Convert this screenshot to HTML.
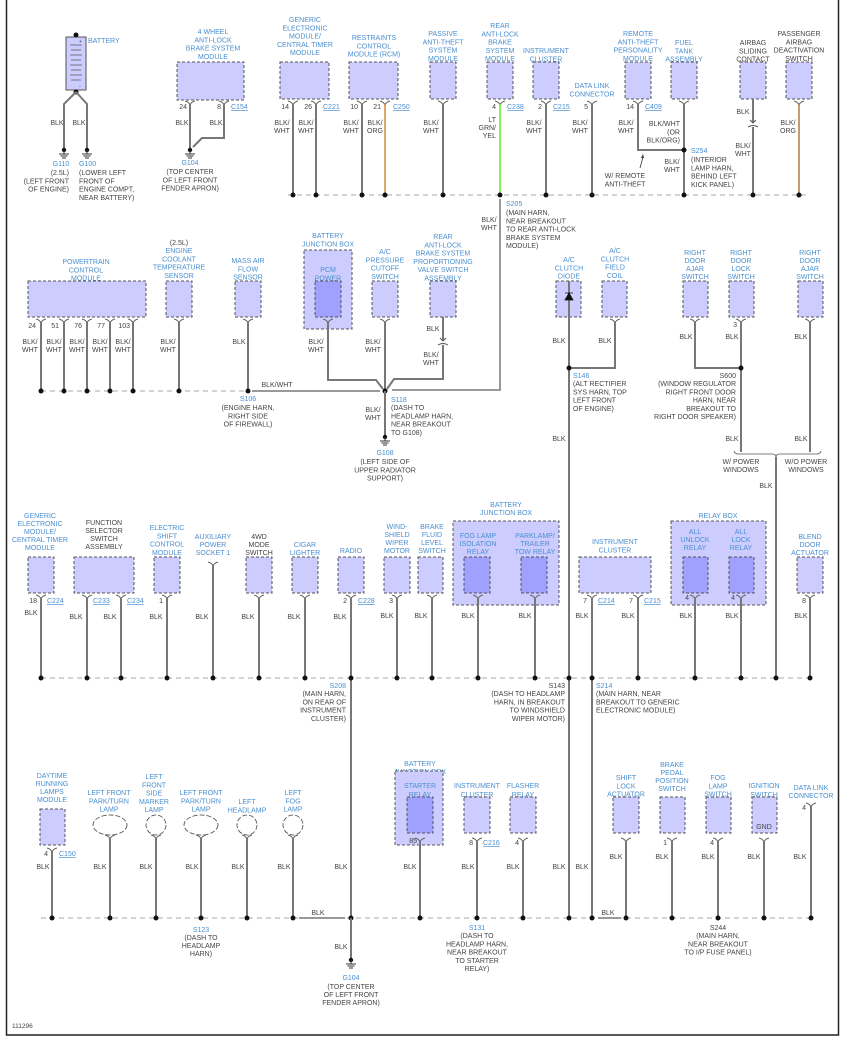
<!DOCTYPE html>
<html><head><meta charset="utf-8"><style>
html,body{margin:0;padding:0;background:#fff;}
svg{display:block;font-family:"Liberation Sans",Arial,sans-serif;font-size:7px;}
.b{fill:#4a8fd0}.k{fill:#444}.m{text-anchor:middle}.e{text-anchor:end}
.u{text-decoration:underline}
.bx{fill:#ccccff;stroke:#555;stroke-width:1;stroke-dasharray:3 2}
.rl{fill:#a0a0ff;stroke:#555;stroke-width:1;stroke-dasharray:3 2}
.w{stroke:#777;stroke-width:2;fill:none}
.bus{stroke:#aaa;stroke-width:1;stroke-dasharray:5 4;fill:none}
.sw{stroke:#999;stroke-width:2;fill:none}
</style></head><body>
<svg width="848" height="1038" viewBox="0 0 848 1038" xmlns="http://www.w3.org/2000/svg">
<defs>
<g id="c"><path d="M-5,0 Q-1,1 0,4 Q1,1 5,0" stroke="#666" stroke-width="1" fill="none"/></g>
<g id="d"><circle r="2.5" fill="#111"/></g>
<g id="g"><circle r="2.2" fill="#111"/><path d="M0,0 V4 M-5,4 H5 M-3.5,6 H3.5 M-2,8 H2" stroke="#333" stroke-width="1"/></g>
</defs>
<!-- frame -->
<path d="M6.5,0 V1035 H838.5 V0" stroke="#222" stroke-width="1.5" fill="none"/>

<!-- ===== SECTION 1 ===== -->
<!-- battery -->
<rect x="66" y="37" width="20" height="53" fill="#ccccff" stroke="#555"/>
<path d="M70,45 H82 M71,50 H81 M70,55 H82 M71,60 H81 M70,65 H82 M71,70 H81 M70,75 H82 M71,80 H81" stroke="#555" stroke-width="0.8"/>
<text x="79" y="43" class="k" font-size="5">+</text><text x="79" y="88" class="k" font-size="5">-</text>
<use href="#d" x="76" y="35"/><use href="#d" x="76" y="92"/>
<path class="w" d="M76,92 L64,104 V150 M76,92 L87,104 V150"/>
<text x="88" y="43" class="b">BATTERY</text>
<text x="57" y="125" class="k m">BLK</text><text x="79" y="125" class="k m">BLK</text>
<use href="#g" x="64" y="150"/><use href="#g" x="87" y="150"/>
<text class="b m" x="61" y="166">G110</text>
<text class="k e" x="69" y="175"><tspan x="69">(2.5L)</tspan><tspan x="69" dy="8.3">(LEFT FRONT</tspan><tspan x="69" dy="8.3">OF ENGINE)</tspan></text>
<text class="b" x="79" y="166">G100</text>
<text class="k" x="79" y="175"><tspan x="79">(LOWER LEFT</tspan><tspan x="79" dy="8.3">FRONT OF</tspan><tspan x="79" dy="8.3">ENGINE COMPT,</tspan><tspan x="79" dy="8.3">NEAR BATTERY)</tspan></text>

<!-- 4WABS -->
<text class="b m" x="213" y="34"><tspan x="213">4 WHEEL</tspan><tspan x="213" dy="8.3">ANTI-LOCK</tspan><tspan x="213" dy="8.3">BRAKE SYSTEM</tspan><tspan x="213" dy="8.3">MODULE</tspan></text>
<rect class="bx" x="177" y="62" width="67" height="38"/>
<use href="#c" x="190" y="101"/><use href="#c" x="224" y="101"/>
<text class="k e" x="187" y="109">24</text><text class="k e" x="221" y="109">8</text>
<text class="b u" x="231" y="109">C154</text>
<path class="w" d="M190,104 V148 M224,104 V138 H202 L193,147"/>
<text class="k m" x="182" y="125">BLK</text><text class="k m" x="216" y="125">BLK</text>
<use href="#g" x="190" y="150"/>
<text class="b m" x="190" y="165">G104</text>
<text class="k m" x="190" y="174"><tspan x="190">(TOP CENTER</tspan><tspan x="190" dy="8.3">OF LEFT FRONT</tspan><tspan x="190" dy="8.3">FENDER APRON)</tspan></text>

<!-- GEM -->
<text class="b m" x="305" y="22"><tspan x="305">GENERIC</tspan><tspan x="305" dy="8.3">ELECTRONIC</tspan><tspan x="305" dy="8.3">MODULE/</tspan><tspan x="305" dy="8.3">CENTRAL TIMER</tspan><tspan x="305" dy="8.3">MODULE</tspan></text>
<rect class="bx" x="280" y="62" width="49" height="37"/>
<use href="#c" x="293" y="101"/><use href="#c" x="316" y="101"/>
<text class="k e" x="289" y="109">14</text><text class="k e" x="312" y="109">26</text>
<text class="b u" x="323" y="109">C221</text>
<path class="w" d="M293,104 V195 M316,104 V195"/>
<text class="k m" x="282" y="125"><tspan x="282">BLK/</tspan><tspan x="282" dy="8">WHT</tspan></text>
<text class="k m" x="306" y="125"><tspan x="306">BLK/</tspan><tspan x="306" dy="8">WHT</tspan></text>
<!-- RCM -->
<text class="b m" x="374" y="40"><tspan x="374">RESTRAINTS</tspan><tspan x="374" dy="8.3">CONTROL</tspan><tspan x="374" dy="8.3">MODULE (RCM)</tspan></text>
<rect class="bx" x="349" y="62" width="49" height="37"/>
<use href="#c" x="362" y="101"/><use href="#c" x="385" y="101"/>
<text class="k e" x="358" y="109">10</text><text class="k e" x="381" y="109">21</text>
<text class="b u" x="393" y="109">C250</text>
<path class="w" d="M362,104 V195"/><path d="M385,104 V195" stroke="#d08a3a" stroke-width="1.5"/>
<text class="k m" x="351" y="125"><tspan x="351">BLK/</tspan><tspan x="351" dy="8">WHT</tspan></text>
<text class="k m" x="375" y="125"><tspan x="375">BLK/</tspan><tspan x="375" dy="8">ORG</tspan></text>
<!-- passive anti-theft -->
<text class="b m" x="443" y="36"><tspan x="443">PASSIVE</tspan><tspan x="443" dy="8.3">ANTI-THEFT</tspan><tspan x="443" dy="8.3">SYSTEM</tspan><tspan x="443" dy="8.3">MODULE</tspan></text>
<rect class="bx" x="430" y="62" width="26" height="37"/>
<use href="#c" x="443" y="101"/><path class="w" d="M443,104 V195"/>
<text class="k m" x="431" y="125"><tspan x="431">BLK/</tspan><tspan x="431" dy="8">WHT</tspan></text>
<!-- rear abs -->
<text class="b m" x="500" y="28"><tspan x="500">REAR</tspan><tspan x="500" dy="8.3">ANTI-LOCK</tspan><tspan x="500" dy="8.3">BRAKE</tspan><tspan x="500" dy="8.3">SYSTEM</tspan><tspan x="500" dy="8.3">MODULE</tspan></text>
<rect class="bx" x="487" y="62" width="26" height="37"/>
<use href="#c" x="500" y="101"/><text class="k e" x="496" y="109">4</text><text class="b u" x="507" y="109">C238</text>
<path d="M500,104 V195" stroke="#66ee22" stroke-width="1.5"/>
<text class="k e" x="496" y="122"><tspan x="496">LT</tspan><tspan x="496" dy="8">GRN/</tspan><tspan x="496" dy="8">YEL</tspan></text>
<!-- instrument cluster -->
<text class="b m" x="546" y="53"><tspan x="546">INSTRUMENT</tspan><tspan x="546" dy="8.3">CLUSTER</tspan></text>
<rect class="bx" x="533" y="62" width="26" height="37"/>
<use href="#c" x="546" y="101"/><text class="k e" x="542" y="109">2</text><text class="b u" x="553" y="109">C215</text>
<path class="w" d="M546,104 V195"/>
<text class="k m" x="534" y="125"><tspan x="534">BLK/</tspan><tspan x="534" dy="8">WHT</tspan></text>
<!-- DLC -->
<text class="b m" x="592" y="88"><tspan x="592">DATA LINK</tspan><tspan x="592" dy="8.3">CONNECTOR</tspan></text>
<use href="#c" x="592" y="101"/><text class="k e" x="588" y="109">5</text>
<path class="w" d="M592,104 V195"/>
<text class="k m" x="580" y="125"><tspan x="580">BLK/</tspan><tspan x="580" dy="8">WHT</tspan></text>
<!-- remote anti-theft -->
<text class="b m" x="638" y="36"><tspan x="638">REMOTE</tspan><tspan x="638" dy="8.3">ANTI-THEFT</tspan><tspan x="638" dy="8.3">PERSONALITY</tspan><tspan x="638" dy="8.3">MODULE</tspan></text>
<rect class="bx" x="625" y="62" width="26" height="37"/>
<use href="#c" x="638" y="101"/><text class="k e" x="634" y="109">14</text><text class="b u" x="645" y="109">C409</text>
<path class="w" d="M638,104 V150 H684" stroke-width="1.5"/>
<text class="k m" x="626" y="125"><tspan x="626">BLK/</tspan><tspan x="626" dy="8">WHT</tspan></text>
<path d="M640,168 L643,157" stroke="#333" stroke-width="0.8"/><path d="M643,154 l-2,4 l3,0 z" fill="#333"/>
<text class="k m" x="625" y="178"><tspan x="625">W/ REMOTE</tspan><tspan x="625" dy="8.3">ANTI-THEFT</tspan></text>
<!-- fuel tank -->
<text class="b m" x="684" y="45"><tspan x="684">FUEL</tspan><tspan x="684" dy="8.3">TANK</tspan><tspan x="684" dy="8.3">ASSEMBLY</tspan></text>
<rect class="bx" x="671" y="62" width="26" height="37"/>
<use href="#c" x="684" y="101"/><path class="w" d="M684,104 V195"/>
<text class="k e" x="680" y="126"><tspan x="680">BLK/WHT</tspan><tspan x="680" dy="8.3">(OR</tspan><tspan x="680" dy="8.3">BLK/ORG)</tspan></text>
<use href="#d" x="684" y="150"/>
<text class="b" x="691" y="153">S254</text>
<text class="k" x="691" y="162"><tspan x="691">(INTERIOR</tspan><tspan x="691" dy="8.3">LAMP HARN,</tspan><tspan x="691" dy="8.3">BEHIND LEFT</tspan><tspan x="691" dy="8.3">KICK PANEL)</tspan></text>
<text class="k m" x="672" y="164"><tspan x="672">BLK/</tspan><tspan x="672" dy="8">WHT</tspan></text>
<!-- airbag sliding -->
<text class="k m" x="753" y="45"><tspan x="753">AIRBAG</tspan><tspan x="753" dy="8.3">SLIDING</tspan><tspan x="753" dy="8.3">CONTACT</tspan></text>
<rect class="bx" x="740" y="62" width="26" height="37"/>
<path class="w" d="M753,99 V122 M753,127 V195"/>
<path d="M750,120 l3,3 l3,-3 M748,127 Q753,124 758,127" stroke="#555" fill="none" stroke-width="1"/>
<text class="k m" x="743" y="114">BLK</text>
<text class="k m" x="743" y="148"><tspan x="743">BLK/</tspan><tspan x="743" dy="8">WHT</tspan></text>
<!-- passenger airbag -->
<text class="k m" x="799" y="36"><tspan x="799">PASSENGER</tspan><tspan x="799" dy="8.3">AIRBAG</tspan><tspan x="799" dy="8.3">DEACTIVATION</tspan><tspan x="799" dy="8.3">SWITCH</tspan></text>
<rect class="bx" x="786" y="62" width="26" height="37"/>
<use href="#c" x="799" y="101"/><path d="M799,104 V195" stroke="#b07a45" stroke-width="1.5"/>
<text class="k m" x="788" y="125"><tspan x="788">BLK/</tspan><tspan x="788" dy="8">ORG</tspan></text>
<!-- bus 1 -->
<path class="bus" d="M288,195 H806"/>
<use href="#d" x="293" y="195"/><use href="#d" x="316" y="195"/><use href="#d" x="362" y="195"/><use href="#d" x="385" y="195"/><use href="#d" x="443" y="195"/><use href="#d" x="500" y="195"/><use href="#d" x="546" y="195"/><use href="#d" x="592" y="195"/><use href="#d" x="684" y="195"/><use href="#d" x="753" y="195"/><use href="#d" x="799" y="195"/>
<path class="sw" d="M500,199 V390 H392"/>
<text class="k m" x="489" y="222"><tspan x="489">BLK/</tspan><tspan x="489" dy="8">WHT</tspan></text>
<text class="b" x="506" y="206">S205</text>
<text class="k" x="506" y="215"><tspan x="506">(MAIN HARN,</tspan><tspan x="506" dy="8.3">NEAR BREAKOUT</tspan><tspan x="506" dy="8.3">TO REAR ANTI-LOCK</tspan><tspan x="506" dy="8.3">BRAKE SYSTEM</tspan><tspan x="506" dy="8.3">MODULE)</tspan></text>

<!-- ===== SECTION 2 ===== -->
<text class="b m" x="86" y="264"><tspan x="86">POWERTRAIN</tspan><tspan x="86" dy="8.3">CONTROL</tspan><tspan x="86" dy="8.3">MODULE</tspan></text>
<rect class="bx" x="28" y="281" width="118" height="36"/>
<use href="#c" x="41" y="319"/><use href="#c" x="64" y="319"/><use href="#c" x="87" y="319"/><use href="#c" x="110" y="319"/><use href="#c" x="133" y="319"/>
<text class="k e" x="36" y="328">24</text><text class="k e" x="59" y="328">51</text><text class="k e" x="82" y="328">76</text><text class="k e" x="105" y="328">77</text><text class="k e" x="130" y="328">103</text>
<path class="w" d="M41,322 V391 M64,322 V391 M87,322 V391 M110,322 V391 M133,322 V391"/>
<text class="k m" x="30" y="344"><tspan x="30">BLK/</tspan><tspan x="30" dy="8">WHT</tspan></text>
<text class="k m" x="54" y="344"><tspan x="54">BLK/</tspan><tspan x="54" dy="8">WHT</tspan></text>
<text class="k m" x="77" y="344"><tspan x="77">BLK/</tspan><tspan x="77" dy="8">WHT</tspan></text>
<text class="k m" x="100" y="344"><tspan x="100">BLK/</tspan><tspan x="100" dy="8">WHT</tspan></text>
<text class="k m" x="123" y="344"><tspan x="123">BLK/</tspan><tspan x="123" dy="8">WHT</tspan></text>
<text class="k m" x="179" y="245">(2.5L)</text>
<text class="b m" x="179" y="253"><tspan x="179">ENGINE</tspan><tspan x="179" dy="8.3">COOLANT</tspan><tspan x="179" dy="8.3">TEMPERATURE</tspan><tspan x="179" dy="8.3">SENSOR</tspan></text>
<rect class="bx" x="166" y="281" width="26" height="36"/>
<use href="#c" x="179" y="319"/><path class="w" d="M179,322 V391"/>
<text class="k m" x="168" y="344"><tspan x="168">BLK/</tspan><tspan x="168" dy="8">WHT</tspan></text>
<text class="b m" x="248" y="263"><tspan x="248">MASS AIR</tspan><tspan x="248" dy="8.3">FLOW</tspan><tspan x="248" dy="8.3">SENSOR</tspan></text>
<rect class="bx" x="235" y="281" width="26" height="36"/>
<use href="#c" x="248" y="319"/><path class="w" d="M248,322 V391"/>
<text class="k m" x="239" y="344">BLK</text>
<path class="bus" d="M41,391 H248"/>
<path class="sw" d="M252,391 H380"/>
<text class="k m" x="277" y="387">BLK/WHT</text>
<use href="#d" x="41" y="391"/><use href="#d" x="64" y="391"/><use href="#d" x="87" y="391"/><use href="#d" x="110" y="391"/><use href="#d" x="133" y="391"/><use href="#d" x="179" y="391"/><use href="#d" x="248" y="391"/>
<text class="b m" x="248" y="401">S106</text>
<text class="k m" x="248" y="410"><tspan x="248">(ENGINE HARN,</tspan><tspan x="248" dy="8.3">RIGHT SIDE</tspan><tspan x="248" dy="8.3">OF FIREWALL)</tspan></text>
<!-- BJB PCM relay -->
<rect class="bx" x="304" y="250" width="48" height="79"/>
<text class="b m" x="328" y="238"><tspan x="328">BATTERY</tspan><tspan x="328" dy="8.3">JUNCTION BOX</tspan></text>
<text class="b m" x="328" y="272"><tspan x="328">PCM</tspan><tspan x="328" dy="8.3">POWER</tspan><tspan x="328" dy="8.3">RELAY</tspan></text>
<rect class="rl" x="315" y="281" width="26" height="36"/>
<use href="#c" x="328" y="319"/>
<path class="w" d="M328,322 V380 H376 L383,389"/>
<text class="k m" x="316" y="344"><tspan x="316">BLK/</tspan><tspan x="316" dy="8">WHT</tspan></text>
<text class="b m" x="385" y="254"><tspan x="385">A/C</tspan><tspan x="385" dy="8.3">PRESSURE</tspan><tspan x="385" dy="8.3">CUTOFF</tspan><tspan x="385" dy="8.3">SWITCH</tspan></text>
<rect class="bx" x="372" y="281" width="26" height="36"/>
<use href="#c" x="385" y="319"/><path class="w" d="M385,322 V391"/>
<text class="k m" x="373" y="344"><tspan x="373">BLK/</tspan><tspan x="373" dy="8">WHT</tspan></text>
<text class="b m" x="443" y="239"><tspan x="443">REAR</tspan><tspan x="443" dy="8.3">ANTI-LOCK</tspan><tspan x="443" dy="8.3">BRAKE SYSTEM</tspan><tspan x="443" dy="8.3">PROPORTIONING</tspan><tspan x="443" dy="8.3">VALVE SWITCH</tspan><tspan x="443" dy="8.3">ASSEMBLY</tspan></text>
<rect class="bx" x="430" y="281" width="26" height="36"/>
<path class="w" d="M443,317 V340 M443,345 V379 H394 L387,389"/>
<path d="M440,338 l3,3 l3,-3 M438,345 Q443,342 448,345" stroke="#555" fill="none" stroke-width="1"/>
<text class="k m" x="433" y="331">BLK</text>
<text class="k m" x="431" y="357"><tspan x="431">BLK/</tspan><tspan x="431" dy="8">WHT</tspan></text>
<use href="#d" x="385" y="391"/>
<path class="w" d="M385,391 V436"/>
<use href="#g" x="385" y="437"/>
<text class="k m" x="373" y="412"><tspan x="373">BLK/</tspan><tspan x="373" dy="8">WHT</tspan></text>
<text class="b" x="391" y="402">S118</text>
<text class="k" x="391" y="410"><tspan x="391">(DASH TO</tspan><tspan x="391" dy="8.3">HEADLAMP HARN,</tspan><tspan x="391" dy="8.3">NEAR BREAKOUT</tspan><tspan x="391" dy="8.3">TO G108)</tspan></text>
<text class="b m" x="385" y="455">G108</text>
<text class="k m" x="385" y="464"><tspan x="385">(LEFT SIDE OF</tspan><tspan x="385" dy="8.3">UPPER RADIATOR</tspan><tspan x="385" dy="8.3">SUPPORT)</tspan></text>
<!-- A/C -->
<text class="b m" x="569" y="262"><tspan x="569">A/C</tspan><tspan x="569" dy="8.3">CLUTCH</tspan><tspan x="569" dy="8.3">DIODE</tspan></text>
<rect class="bx" x="556" y="281" width="25" height="36"/>
<path class="w" d="M569,281 V918"/>
<path d="M565,300 L573,300 L569,293 Z M565,293 H573" fill="#111" stroke="#111" stroke-width="0.8"/>
<text class="b m" x="615" y="253"><tspan x="615">A/C</tspan><tspan x="615" dy="8.3">CLUTCH</tspan><tspan x="615" dy="8.3">FIELD</tspan><tspan x="615" dy="8.3">COIL</tspan></text>
<rect class="bx" x="602" y="281" width="25" height="36"/>
<use href="#c" x="615" y="319"/><path class="w" d="M615,322 V368 H569"/>
<use href="#d" x="569" y="368"/>
<text class="k m" x="559" y="343">BLK</text><text class="k m" x="605" y="343">BLK</text>
<text class="b" x="573" y="378">S146</text>
<text class="k" x="573" y="386"><tspan x="573">(ALT RECTIFIER</tspan><tspan x="573" dy="8.3">SYS HARN, TOP</tspan><tspan x="573" dy="8.3">LEFT FRONT</tspan><tspan x="573" dy="8.3">OF ENGINE)</tspan></text>
<text class="k m" x="559" y="441">BLK</text>
<!-- right doors -->
<text class="b m" x="695" y="255"><tspan x="695">RIGHT</tspan><tspan x="695" dy="8">DOOR</tspan><tspan x="695" dy="8">AJAR</tspan><tspan x="695" dy="8">SWITCH</tspan></text>
<rect class="bx" x="683" y="281" width="25" height="36"/>
<use href="#c" x="695" y="319"/><path class="w" d="M695,322 V368 H741"/>
<text class="b m" x="741" y="255"><tspan x="741">RIGHT</tspan><tspan x="741" dy="8">DOOR</tspan><tspan x="741" dy="8">LOCK</tspan><tspan x="741" dy="8">SWITCH</tspan></text>
<rect class="bx" x="729" y="281" width="25" height="36"/>
<use href="#c" x="741" y="319"/><text class="k e" x="737" y="327">3</text>
<path class="w" d="M741,322 V452"/>
<use href="#d" x="741" y="368"/>
<text class="b m" x="810" y="255"><tspan x="810">RIGHT</tspan><tspan x="810" dy="8">DOOR</tspan><tspan x="810" dy="8">AJAR</tspan><tspan x="810" dy="8">SWITCH</tspan></text>
<rect class="bx" x="798" y="281" width="25" height="36"/>
<use href="#c" x="810" y="319"/><path class="w" d="M810,322 V452"/>
<text class="k m" x="686" y="339">BLK</text><text class="k m" x="732" y="339">BLK</text><text class="k m" x="801" y="339">BLK</text>
<text class="k e" x="736" y="378">S600</text>
<text class="k e" x="736" y="386"><tspan x="736">(WINDOW REGULATOR</tspan><tspan x="736" dy="8.3">RIGHT FRONT DOOR</tspan><tspan x="736" dy="8.3">HARN, NEAR</tspan><tspan x="736" dy="8.3">BREAKOUT TO</tspan><tspan x="736" dy="8.3">RIGHT DOOR SPEAKER)</tspan></text>
<text class="k m" x="732" y="441">BLK</text><text class="k m" x="801" y="441">BLK</text>
<path d="M734,451 Q735,454 738,454 H772 Q776,454 776,457 Q776,454 780,454 H817 Q820,454 821,451" stroke="#555" fill="none" stroke-width="0.8"/>
<path class="w" d="M776,457 V678"/>
<text class="k m" x="741" y="464"><tspan x="741">W/ POWER</tspan><tspan x="741" dy="8">WINDOWS</tspan></text>
<text class="k m" x="806" y="464"><tspan x="806">W/O POWER</tspan><tspan x="806" dy="8">WINDOWS</tspan></text>
<text class="k m" x="766" y="488">BLK</text>

<!-- ===== SECTION 3 ===== -->
<text class="b m" x="40" y="518"><tspan x="40">GENERIC</tspan><tspan x="40" dy="8">ELECTRONIC</tspan><tspan x="40" dy="8">MODULE/</tspan><tspan x="40" dy="8">CENTRAL TIMER</tspan><tspan x="40" dy="8">MODULE</tspan></text>
<rect class="bx" x="28" y="557" width="26" height="36"/>
<use href="#c" x="41" y="595"/><text class="k e" x="37" y="603">18</text><text class="b u" x="47" y="603">C224</text>
<path class="w" d="M41,598 V678"/><text class="k m" x="31" y="615">BLK</text>
<text class="k m" x="104" y="525"><tspan x="104">FUNCTION</tspan><tspan x="104" dy="8">SELECTOR</tspan><tspan x="104" dy="8">SWITCH</tspan><tspan x="104" dy="8">ASSEMBLY</tspan></text>
<rect class="bx" x="74" y="557" width="60" height="36"/>
<use href="#c" x="87" y="595"/><use href="#c" x="121" y="595"/>
<text class="b u" x="93" y="603">C233</text><text class="b u" x="127" y="603">C234</text>
<path class="w" d="M87,598 V678 M121,598 V678"/>
<text class="k m" x="76" y="619">BLK</text><text class="k m" x="110" y="619">BLK</text>
<text class="b m" x="167" y="530"><tspan x="167">ELECTRIC</tspan><tspan x="167" dy="8.3">SHIFT</tspan><tspan x="167" dy="8.3">CONTROL</tspan><tspan x="167" dy="8.3">MODULE</tspan></text>
<rect class="bx" x="154" y="557" width="26" height="36"/>
<use href="#c" x="167" y="595"/><text class="k e" x="163" y="603">1</text>
<path class="w" d="M167,598 V678"/><text class="k m" x="156" y="619">BLK</text>
<text class="b m" x="213" y="539"><tspan x="213">AUXILIARY</tspan><tspan x="213" dy="8">POWER</tspan><tspan x="213" dy="8">SOCKET 1</tspan></text>
<use href="#c" x="213" y="562"/><path class="w" d="M213,565 V678"/><text class="k m" x="202" y="619">BLK</text>
<text class="k m" x="259" y="539"><tspan x="259">4WD</tspan><tspan x="259" dy="8">MODE</tspan><tspan x="259" dy="8">SWITCH</tspan></text>
<rect class="bx" x="246" y="557" width="26" height="36"/>
<use href="#c" x="259" y="595"/><path class="w" d="M259,598 V678"/><text class="k m" x="248" y="619">BLK</text>
<text class="b m" x="305" y="547"><tspan x="305">CIGAR</tspan><tspan x="305" dy="8">LIGHTER</tspan></text>
<rect class="bx" x="292" y="557" width="26" height="36"/>
<use href="#c" x="305" y="595"/><path class="w" d="M305,598 V678"/><text class="k m" x="294" y="619">BLK</text>
<text class="b m" x="351" y="553">RADIO</text>
<rect class="bx" x="338" y="557" width="26" height="36"/>
<use href="#c" x="351" y="595"/><text class="k e" x="347" y="603">2</text><text class="b u" x="358" y="603">C228</text>
<path class="w" d="M351,598 V940"/><text class="k m" x="340" y="619">BLK</text>
<text class="b m" x="397" y="529"><tspan x="397">WIND-</tspan><tspan x="397" dy="8">SHIELD</tspan><tspan x="397" dy="8">WIPER</tspan><tspan x="397" dy="8">MOTOR</tspan></text>
<rect class="bx" x="384" y="557" width="26" height="36"/>
<use href="#c" x="397" y="595"/><text class="k e" x="393" y="603">3</text>
<path class="w" d="M397,598 V678"/><text class="k m" x="387" y="618">BLK</text>
<text class="b m" x="432" y="529"><tspan x="432">BRAKE</tspan><tspan x="432" dy="8">FLUID</tspan><tspan x="432" dy="8">LEVEL</tspan><tspan x="432" dy="8">SWITCH</tspan></text>
<rect class="bx" x="418" y="557" width="25" height="36"/>
<use href="#c" x="432" y="595"/><path class="w" d="M432,598 V678"/><text class="k m" x="421" y="618">BLK</text>
<!-- BJB -->
<text class="b m" x="506" y="507"><tspan x="506">BATTERY</tspan><tspan x="506" dy="8">JUNCTION BOX</tspan></text>
<rect class="bx" x="453" y="521" width="106" height="84"/>
<text class="b m" x="478" y="538"><tspan x="478">FOG LAMP</tspan><tspan x="478" dy="8">ISOLATION</tspan><tspan x="478" dy="8">RELAY</tspan></text>
<text class="b m" x="535" y="538"><tspan x="535">PARKLAMP/</tspan><tspan x="535" dy="8">TRAILER</tspan><tspan x="535" dy="8">TOW RELAY</tspan></text>
<rect class="rl" x="464" y="557" width="26" height="36"/><rect class="rl" x="521" y="557" width="26" height="36"/>
<use href="#c" x="478" y="595"/><use href="#c" x="535" y="595"/>
<path class="w" d="M478,598 V678 M535,598 V678"/>
<text class="k m" x="468" y="618">BLK</text><text class="k m" x="525" y="618">BLK</text>
<text class="k e" x="565" y="688">S143</text>
<text class="k e" x="565" y="696"><tspan x="565">(DASH TO HEADLAMP</tspan><tspan x="565" dy="8.3">HARN, IN BREAKOUT</tspan><tspan x="565" dy="8.3">TO WINDSHIELD</tspan><tspan x="565" dy="8.3">WIPER MOTOR)</tspan></text>
<!-- IC -->
<text class="b m" x="615" y="544"><tspan x="615">INSTRUMENT</tspan><tspan x="615" dy="8.5">CLUSTER</tspan></text>
<rect class="bx" x="579" y="557" width="72" height="36"/>
<use href="#c" x="592" y="595"/><use href="#c" x="638" y="595"/>
<text class="k e" x="587" y="603">7</text><text class="b u" x="598" y="603">C214</text>
<text class="k e" x="633" y="603">7</text><text class="b u" x="644" y="603">C215</text>
<path class="w" d="M592,598 V918 M638,598 V678"/>
<text class="k m" x="582" y="618">BLK</text><text class="k m" x="628" y="618">BLK</text>
<text class="b" x="596" y="688">S214</text>
<text class="k" x="596" y="696"><tspan x="596">(MAIN HARN, NEAR</tspan><tspan x="596" dy="8.3">BREAKOUT TO GENERIC</tspan><tspan x="596" dy="8.3">ELECTRONIC MODULE)</tspan></text>
<!-- relay box -->
<text class="b m" x="718" y="518">RELAY BOX</text>
<rect class="bx" x="671" y="521" width="95" height="84"/>
<text class="b m" x="695" y="534"><tspan x="695">ALL</tspan><tspan x="695" dy="8">UNLOCK</tspan><tspan x="695" dy="8">RELAY</tspan></text>
<text class="b m" x="741" y="534"><tspan x="741">ALL</tspan><tspan x="741" dy="8">LOCK</tspan><tspan x="741" dy="8">RELAY</tspan></text>
<rect class="rl" x="683" y="557" width="25" height="36"/><rect class="rl" x="729" y="557" width="25" height="36"/>
<use href="#c" x="695" y="595"/><use href="#c" x="741" y="595"/>
<text class="k e" x="689" y="600">4</text><text class="k e" x="735" y="600">4</text>
<path class="w" d="M695,598 V678 M741,598 V678"/>
<text class="k m" x="686" y="618">BLK</text><text class="k m" x="732" y="618">BLK</text>
<text class="b m" x="810" y="539"><tspan x="810">BLEND</tspan><tspan x="810" dy="8">DOOR</tspan><tspan x="810" dy="8">ACTUATOR</tspan></text>
<rect class="bx" x="797" y="557" width="26" height="36"/>
<use href="#c" x="810" y="595"/><text class="k e" x="806" y="603">8</text>
<path class="w" d="M810,598 V678"/><text class="k m" x="801" y="618">BLK</text>
<path class="bus" d="M41,678 H812"/>
<use href="#d" x="41" y="678"/><use href="#d" x="87" y="678"/><use href="#d" x="121" y="678"/><use href="#d" x="167" y="678"/><use href="#d" x="213" y="678"/><use href="#d" x="259" y="678"/><use href="#d" x="305" y="678"/><use href="#d" x="351" y="678"/><use href="#d" x="397" y="678"/><use href="#d" x="432" y="678"/><use href="#d" x="478" y="678"/><use href="#d" x="535" y="678"/><use href="#d" x="569" y="678"/><use href="#d" x="592" y="678"/><use href="#d" x="638" y="678"/><use href="#d" x="695" y="678"/><use href="#d" x="741" y="678"/><use href="#d" x="776" y="678"/><use href="#d" x="810" y="678"/>
<text class="b e" x="346" y="688">S208</text>
<text class="k e" x="346" y="696"><tspan x="346">(MAIN HARN,</tspan><tspan x="346" dy="8.3">ON REAR OF</tspan><tspan x="346" dy="8.3">INSTRUMENT</tspan><tspan x="346" dy="8.3">CLUSTER)</tspan></text>

<!-- ===== SECTION 4 ===== -->
<text class="b m" x="52" y="778"><tspan x="52">DAYTIME</tspan><tspan x="52" dy="8">RUNNING</tspan><tspan x="52" dy="8">LAMPS</tspan><tspan x="52" dy="8">MODULE</tspan></text>
<rect class="bx" x="40" y="809" width="25" height="36"/>
<use href="#c" x="52" y="848"/><text class="k e" x="48" y="856">4</text><text class="b u" x="59" y="856">C150</text>
<path class="w" d="M52,851 V918"/><text class="k m" x="43" y="869">BLK</text>
<g fill="none" stroke="#444" stroke-width="0.8" stroke-dasharray="5 2">
<ellipse cx="110" cy="825" rx="17" ry="10"/><circle cx="156" cy="825" r="10"/><ellipse cx="201" cy="825" rx="17" ry="10"/><circle cx="247" cy="825" r="10"/><circle cx="293" cy="825" r="10"/>
</g>
<text class="b m" x="109" y="795"><tspan x="109">LEFT FRONT</tspan><tspan x="109" dy="8.3">PARK/TURN</tspan><tspan x="109" dy="8.3">LAMP</tspan></text>
<text class="b m" x="154" y="779"><tspan x="154">LEFT</tspan><tspan x="154" dy="8.3">FRONT</tspan><tspan x="154" dy="8.3">SIDE</tspan><tspan x="154" dy="8.3">MARKER</tspan><tspan x="154" dy="8.3">LAMP</tspan></text>
<text class="b m" x="201" y="795"><tspan x="201">LEFT FRONT</tspan><tspan x="201" dy="8.3">PARK/TURN</tspan><tspan x="201" dy="8.3">LAMP</tspan></text>
<text class="b m" x="247" y="804"><tspan x="247">LEFT</tspan><tspan x="247" dy="8.3">HEADLAMP</tspan></text>
<text class="b m" x="293" y="795"><tspan x="293">LEFT</tspan><tspan x="293" dy="8.3">FOG</tspan><tspan x="293" dy="8.3">LAMP</tspan></text>
<use href="#c" x="110" y="835"/><use href="#c" x="156" y="835"/><use href="#c" x="201" y="835"/><use href="#c" x="247" y="835"/><use href="#c" x="293" y="835"/>
<path class="w" d="M110,838 V918 M156,838 V918 M201,838 V918 M247,838 V918 M293,838 V918"/>
<text class="k m" x="100" y="869">BLK</text><text class="k m" x="146" y="869">BLK</text><text class="k m" x="192" y="869">BLK</text><text class="k m" x="238" y="869">BLK</text><text class="k m" x="284" y="869">BLK</text><text class="k m" x="341" y="869">BLK</text>
<!-- starter relay -->
<text class="b m" x="420" y="766"><tspan x="420">BATTERY</tspan><tspan x="420" dy="8">JUNCTION BOX</tspan></text>
<rect class="bx" x="395" y="771" width="48" height="74"/>
<text class="b m" x="420" y="788"><tspan x="420">STARTER</tspan><tspan x="420" dy="9">RELAY</tspan></text>
<rect class="rl" x="407" y="797" width="26" height="36"/>
<use href="#c" x="420" y="838"/><text class="k e" x="417" y="843">85</text>
<path class="w" d="M420,841 V918"/><text class="k m" x="410" y="869">BLK</text>
<text class="b m" x="477" y="788"><tspan x="477">INSTRUMENT</tspan><tspan x="477" dy="9">CLUSTER</tspan></text>
<rect class="bx" x="464" y="797" width="26" height="36"/>
<use href="#c" x="477" y="838"/><text class="k e" x="473" y="845">8</text><text class="b u" x="483" y="845">C216</text>
<path class="w" d="M477,841 V918"/><text class="k m" x="468" y="869">BLK</text>
<text class="b m" x="523" y="788"><tspan x="523">FLASHER</tspan><tspan x="523" dy="9">RELAY</tspan></text>
<rect class="bx" x="510" y="797" width="26" height="36"/>
<use href="#c" x="523" y="838"/><text class="k e" x="519" y="845">4</text>
<path class="w" d="M523,841 V918"/><text class="k m" x="513" y="869">BLK</text>
<text class="k m" x="559" y="869">BLK</text><text class="k m" x="582" y="869">BLK</text>
<text class="b m" x="626" y="780"><tspan x="626">SHIFT</tspan><tspan x="626" dy="8.3">LOCK</tspan><tspan x="626" dy="8.3">ACTUATOR</tspan></text>
<rect class="bx" x="613" y="797" width="26" height="36"/>
<use href="#c" x="626" y="838"/><path class="w" d="M626,841 V918"/>
<text class="b m" x="672" y="767"><tspan x="672">BRAKE</tspan><tspan x="672" dy="8">PEDAL</tspan><tspan x="672" dy="8">POSITION</tspan><tspan x="672" dy="8">SWITCH</tspan></text>
<rect class="bx" x="660" y="797" width="25" height="36"/>
<use href="#c" x="672" y="838"/><text class="k e" x="667" y="845">1</text><path class="w" d="M672,841 V918"/>
<text class="b m" x="718" y="780"><tspan x="718">FOG</tspan><tspan x="718" dy="8.3">LAMP</tspan><tspan x="718" dy="8.3">SWITCH</tspan></text>
<rect class="bx" x="706" y="797" width="25" height="36"/>
<use href="#c" x="718" y="838"/><text class="k e" x="714" y="845">4</text><path class="w" d="M718,841 V918"/>
<text class="b m" x="764" y="788"><tspan x="764">IGNITION</tspan><tspan x="764" dy="9">SWITCH</tspan></text>
<rect class="bx" x="752" y="797" width="25" height="36"/>
<text class="k m" x="764" y="829">GND</text>
<use href="#c" x="764" y="838"/><path class="w" d="M764,841 V918"/>
<text class="b m" x="811" y="790"><tspan x="811">DATA LINK</tspan><tspan x="811" dy="8">CONNECTOR</tspan></text>
<use href="#c" x="811" y="803"/><text class="k e" x="806" y="810">4</text><path class="w" d="M811,806 V918"/>
<text class="k m" x="616" y="859">BLK</text><text class="k m" x="662" y="859">BLK</text><text class="k m" x="708" y="859">BLK</text><text class="k m" x="754" y="859">BLK</text><text class="k m" x="800" y="859">BLK</text>
<path class="bus" d="M41,918 H812"/>
<path class="sw" d="M299,918 H345 M598,918 H621"/>
<text class="k m" x="318" y="915">BLK</text><text class="k m" x="608" y="915">BLK</text>
<use href="#d" x="52" y="918"/><use href="#d" x="110" y="918"/><use href="#d" x="156" y="918"/><use href="#d" x="201" y="918"/><use href="#d" x="247" y="918"/><use href="#d" x="293" y="918"/><use href="#d" x="351" y="918"/><use href="#d" x="420" y="918"/><use href="#d" x="477" y="918"/><use href="#d" x="523" y="918"/><use href="#d" x="569" y="918"/><use href="#d" x="592" y="918"/><use href="#d" x="626" y="918"/><use href="#d" x="672" y="918"/><use href="#d" x="718" y="918"/><use href="#d" x="764" y="918"/><use href="#d" x="811" y="918"/>
<text class="b m" x="201" y="932">S123</text>
<text class="k m" x="201" y="940"><tspan x="201">(DASH TO</tspan><tspan x="201" dy="8">HEADLAMP</tspan><tspan x="201" dy="8">HARN)</tspan></text>
<path class="w" d="M351,918 V958"/>
<use href="#g" x="351" y="960"/>
<text class="k m" x="341" y="949">BLK</text>
<text class="b m" x="351" y="980">G104</text>
<text class="k m" x="351" y="989"><tspan x="351">(TOP CENTER</tspan><tspan x="351" dy="8">OF LEFT FRONT</tspan><tspan x="351" dy="8">FENDER APRON)</tspan></text>
<text class="b m" x="477" y="930">S131</text>
<text class="k m" x="477" y="938"><tspan x="477">(DASH TO</tspan><tspan x="477" dy="8.3">HEADLAMP HARN,</tspan><tspan x="477" dy="8.3">NEAR BREAKOUT</tspan><tspan x="477" dy="8.3">TO STARTER</tspan><tspan x="477" dy="8.3">RELAY)</tspan></text>
<text class="k m" x="718" y="930">S244</text>
<text class="k m" x="718" y="938"><tspan x="718">(MAIN HARN,</tspan><tspan x="718" dy="8.3">NEAR BREAKOUT</tspan><tspan x="718" dy="8.3">TO I/P FUSE PANEL)</tspan></text>
<text class="k" x="12" y="1028" font-size="6.5">111296</text>
</svg>
</body></html>
